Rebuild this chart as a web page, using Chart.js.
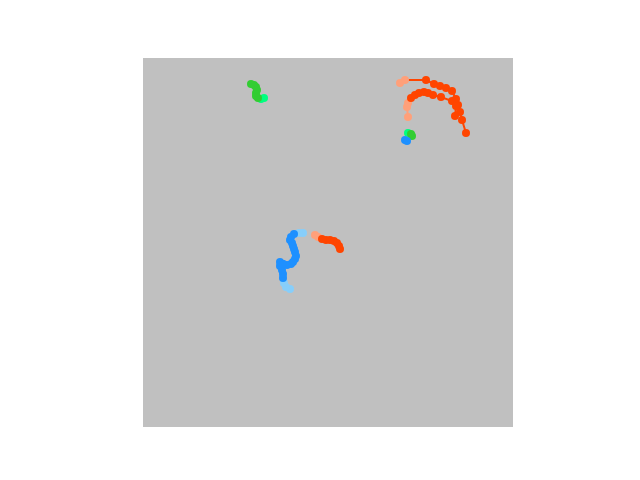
<!DOCTYPE html>
<html><head><meta charset="utf-8">
<script src="https://cdn.jsdelivr.net/npm/chart.js@4"></script>
<style>html,body{margin:0;padding:0;background:#fff;}#wrap{width:640px;height:480px;}</style>
</head><body><div id="wrap"><canvas id="c" width="640" height="480"></canvas></div>
<script>
// Trajectories (x, y in plot units 0..370). First `light` points use the light shade.
const orangeOuterX = [257,262,283,291,297,303,309,313,315,317,319,323];
const orangeOuterY = [344,347,347,343,341,339,336,328,322,315,307,294];
const orangeOuterLight = 2;
const orangeInnerX = [265,264,265,268,272,276,281,285,290,298,309,313,312];
const orangeInnerY = [310,320,324,329,332,334,335,334,332,330,326,321,311];
const orangeInnerLight = 3;
const orangeSmallX = [172,175,179,183,187,191,194,196,197];
const orangeSmallY = [192,190,188,187,187,186,184,181,178];
const orangeSmallLight = 2;
const blueTopX = [160,156,151,148,147,149,150,151,152,153,152,150,148,144,140];
const blueTopY = [194,194,193,190,187,184,181,178,175,171,168,165,163,162,163];
const blueTopLight = 2;
const blueBottomX = [147,143,141,140,140,139,137,137,140];
const blueBottomY = [138,140,144,149,153,157,161,165,163];
const blueBottomLight = 3;
const blueSmallX = [262,264];
const blueSmallY = [287,286];
const blueSmallLight = 0;
const greenTopX = [121,118,115,113,113,114,113,111,108];
const greenTopY = [329,328,329,331,334,337,340,342,343];
const greenTopLight = 2;
const greenSmallX = [265,268,269];
const greenSmallY = [294,293,291];
const greenSmallLight = 1;

const ORANGE = ['#FFA07A', '#FF4500'];
const BLUE = ['#87CEFA', '#1E90FF'];
const GREEN = ['#00FF7F', '#32CD32'];

function traj(xs, ys, light, pal) {
  const data = xs.map((x, i) => ({x: x, y: ys[i]}));
  const cols = xs.map((_, i) => i < light ? pal[0] : pal[1]);
  return {
    data: data,
    showLine: true,
    borderWidth: 2,
    pointRadius: 4,
    pointHoverRadius: 4,
    pointBorderWidth: 0,
    pointBackgroundColor: cols,
    pointBorderColor: cols,
    borderColor: pal[1],
    segment: { borderColor: c => (c.p1DataIndex < light ? pal[0] : pal[1]) }
  };
}

const bgPlugin = {
  id: 'bg',
  beforeDraw(chart) {
    const a = chart.chartArea, ctx = chart.ctx;
    ctx.save();
    ctx.fillStyle = '#c0c0c0';
    ctx.fillRect(a.left, a.top, a.right - a.left, a.bottom - a.top);
    ctx.restore();
  }
};

new Chart(document.getElementById('c'), {
  type: 'scatter',
  data: { datasets: [
    traj(greenTopX, greenTopY, greenTopLight, GREEN),
    traj(blueTopX, blueTopY, blueTopLight, BLUE),
    traj(blueBottomX, blueBottomY, blueBottomLight, BLUE),
    traj(orangeSmallX, orangeSmallY, orangeSmallLight, ORANGE),
    traj(blueSmallX, blueSmallY, blueSmallLight, BLUE),
    traj(greenSmallX, greenSmallY, greenSmallLight, GREEN),
    traj(orangeInnerX, orangeInnerY, orangeInnerLight, ORANGE),
    traj(orangeOuterX, orangeOuterY, orangeOuterLight, ORANGE)
  ]},
  options: {
    responsive: false,
    animation: false,
    layout: { padding: { left: 143, right: 127, top: 58, bottom: 53 } },
    plugins: { legend: { display: false }, tooltip: { enabled: false } },
    scales: {
      x: { type: 'linear', min: 0, max: 370, display: false },
      y: { type: 'linear', min: 0, max: 369, display: false }
    }
  },
  plugins: [bgPlugin]
});
</script></body></html>
